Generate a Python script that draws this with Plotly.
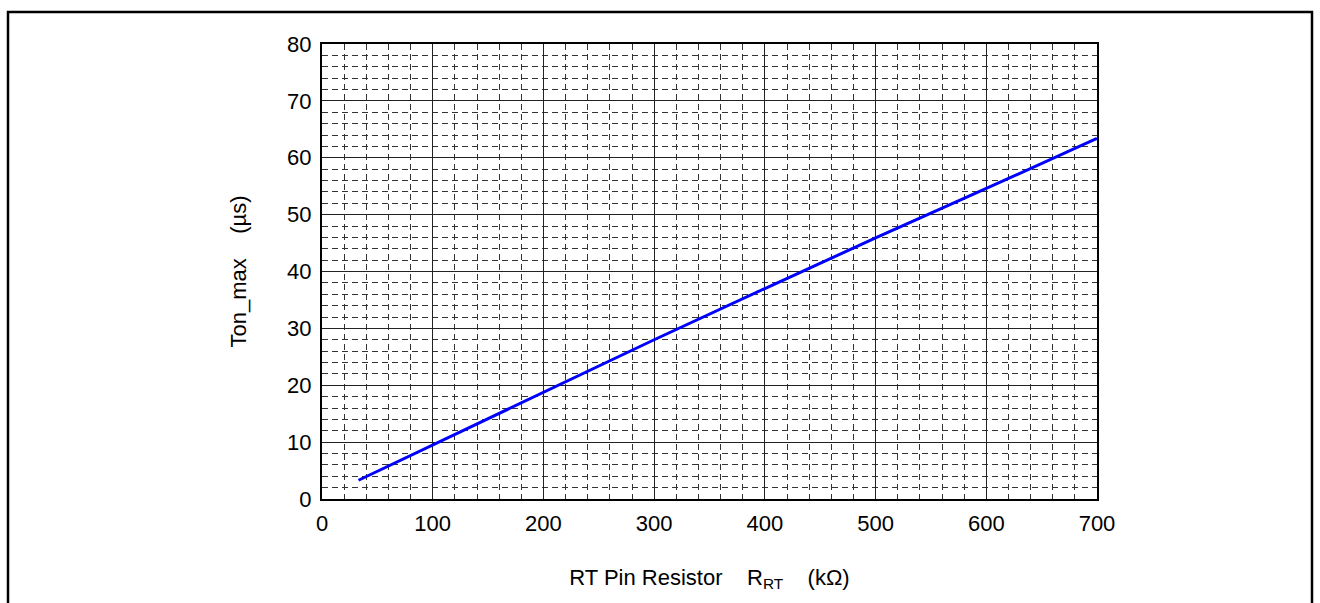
import plotly.graph_objects as go

# Data
r_rt_kohm = [33, 100, 200, 300, 400, 500, 600, 700]
ton_max_us = [3.3, 9.5, 18.8, 28.0, 37.0, 45.9, 54.6, 63.4]

x_ticks = [0, 100, 200, 300, 400, 500, 600, 700]
y_ticks = [0, 10, 20, 30, 40, 50, 60, 70, 80]

W, H = 1320, 603
L, R, T, B = 322, 1097, 44, 499

fig = go.Figure()
fig.add_trace(go.Scatter(x=r_rt_kohm, y=ton_max_us, mode="lines",
                         line=dict(color="#0000ff", width=3), showlegend=False,
                         hoverinfo="x+y"))

font = dict(family="Liberation Sans, Arial, sans-serif", color="#000000")
NB = "\u00a0"

fig.update_layout(
    width=W, height=H,
    margin=dict(l=L, r=W - R, t=T, b=H - B, pad=0),
    paper_bgcolor="white", plot_bgcolor="white",
    font=font,
    xaxis=dict(
        range=[0, 700], tickvals=x_ticks, ticktext=[str(v) for v in x_ticks],
        showgrid=True, gridcolor="#222222", gridwidth=1,
        minor=dict(dtick=20, tick0=0, showgrid=True, gridcolor="#333333",
                   gridwidth=1, griddash="6px,4px"),
        showline=True, linecolor="black", linewidth=2, mirror=True,
        zeroline=False, ticks="", ticklabelstandoff=4,
        tickfont=dict(size=22, **font),
        title=dict(text="RT Pin Resistor" + NB * 4 + "R<sub>RT</sub>" + NB * 4 + "(kΩ)",
                   font=dict(size=22, **font), standoff=34),
    ),
    yaxis=dict(
        range=[0, 80], tickvals=y_ticks, ticktext=[str(v) for v in y_ticks],
        showgrid=True, gridcolor="#222222", gridwidth=1,
        minor=dict(dtick=2, tick0=0, showgrid=True, gridcolor="#333333",
                   gridwidth=1, griddash="6px,4px"),
        showline=True, linecolor="black", linewidth=2, mirror=True,
        zeroline=False, ticks="", ticklabelstandoff=4,
        tickfont=dict(size=22, **font),
        title=dict(text="Ton_max" + NB * 4 + "(µs)", font=dict(size=22, **font),
                   standoff=34),
    ),
)

# Outer frame around the figure (in paper coords)
pw, ph = R - L, B - T
def px_x(v):
    return (v - L) / pw
def px_y(v):
    return (B - v) / ph

fig.add_shape(type="rect", xref="paper", yref="paper",
              x0=px_x(8), x1=px_x(1312), y0=px_y(640), y1=px_y(12),
              line=dict(color="black", width=2.5), fillcolor="rgba(0,0,0,0)",
              layer="above")

fig.write_html("out.html")
